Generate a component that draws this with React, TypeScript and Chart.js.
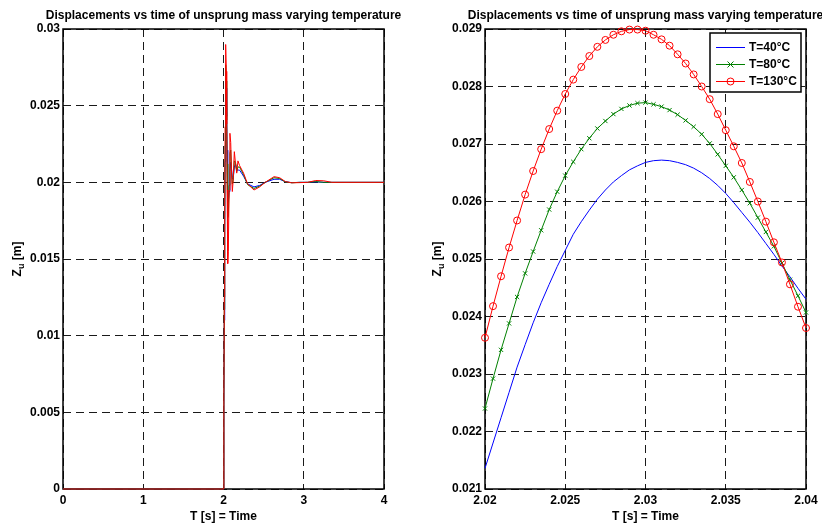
import React, { useEffect, useRef } from 'react';
import { Chart, registerables } from 'chart.js';

Chart.register(...registerables);

// ---------- text ----------
const TITLE = 'Displacements vs time of unsprung mass varying temperature';
const X_LABEL = 'T [s] = Time';
const Y_LABEL_MAIN = 'Z';
const Y_LABEL_SUB = 'u';
const Y_LABEL_REST = ' [m]';
const SERIES_NAMES = ['T=40°C', 'T=80°C', 'T=130°C'];

// ---------- left plot (full time range) ----------
const leftTime = [0, 2.0, 2.005, 2.01, 2.015, 2.02, 2.025, 2.029, 2.035, 2.04,
  2.045, 2.05, 2.055, 2.06, 2.07, 2.08, 2.09, 2.1, 2.11, 2.12,
  2.135, 2.15, 2.165, 2.18, 2.2, 2.25, 2.3, 2.38, 2.45, 2.52,
  2.63, 2.7, 2.77, 2.85, 2.95, 3.05, 3.15, 3.25, 3.35, 4.0];
const leftBlue40 = [0, 0, 0.0055, 0.011, 0.0163, 0.02136, 0.02515, 0.02655, 0.02614, 0.0243,
  0.0221, 0.0201, 0.019, 0.0187, 0.0194, 0.0207, 0.0213, 0.0209, 0.0203, 0.0202,
  0.021, 0.0212, 0.0208, 0.0208, 0.0208, 0.0204, 0.0199, 0.0197, 0.0198, 0.02,
  0.0202, 0.0202, 0.02004, 0.01998, 0.02, 0.02, 0.02003, 0.02, 0.02, 0.02];
const leftGreen80 = [0, 0, 0.0058, 0.0117, 0.0172, 0.0224, 0.02645, 0.02767, 0.02662, 0.02407,
  0.0212, 0.019, 0.0177, 0.0178, 0.0198, 0.0219, 0.0221, 0.0208, 0.0199, 0.0201,
  0.0214, 0.0213, 0.0207, 0.021, 0.021, 0.0205, 0.01985, 0.0196, 0.01975, 0.02,
  0.0203, 0.02025, 0.02003, 0.01997, 0.02, 0.02, 0.02005, 0.02, 0.02, 0.02];
const leftRed130 = [0, 0, 0.0062, 0.0125, 0.0183, 0.02363, 0.02787, 0.02899, 0.02724, 0.0238,
  0.0195, 0.0158, 0.0147, 0.0155, 0.0195, 0.0232, 0.0226, 0.0206, 0.0194, 0.0201,
  0.022, 0.0212, 0.0206, 0.0214, 0.0211, 0.0206, 0.0199, 0.0195, 0.0197, 0.02,
  0.02037, 0.0203, 0.02005, 0.01997, 0.01998, 0.02, 0.02012, 0.0201, 0.02, 0.02];

// ---------- right plot (zoom 2.02 .. 2.04) ----------
const rightTime = [2.02, 2.0205, 2.021, 2.0215, 2.022, 2.0225, 2.023, 2.0235, 2.024, 2.0245,
  2.025, 2.0255, 2.026, 2.0265, 2.027, 2.0275, 2.028, 2.0285, 2.029, 2.0295,
  2.03, 2.0305, 2.031, 2.0315, 2.032, 2.0325, 2.033, 2.0335, 2.034, 2.0345,
  2.035, 2.0355, 2.036, 2.0365, 2.037, 2.0375, 2.038, 2.0385, 2.039, 2.0395, 2.04];
const rightBlue40 = [0.02136, 0.0218, 0.02224, 0.02268, 0.02312, 0.02351, 0.02389, 0.02424, 0.02456, 0.02487,
  0.02515, 0.02543, 0.02565, 0.02585, 0.02604, 0.0262, 0.02634, 0.02645, 0.02655, 0.02662,
  0.02668, 0.02671, 0.02672, 0.02671, 0.02668, 0.02664, 0.02658, 0.0265, 0.0264, 0.02628,
  0.02614, 0.02598, 0.02581, 0.02564, 0.02546, 0.02527, 0.02508, 0.02488, 0.02469, 0.02449, 0.0243];
const rightGreen80 = [0.0224, 0.02292, 0.02342, 0.02388, 0.02434, 0.02475, 0.02513, 0.0255, 0.02586, 0.02617,
  0.02645, 0.02669, 0.02691, 0.0271, 0.02727, 0.0274, 0.02752, 0.02761, 0.02767, 0.02771,
  0.02772, 0.02769, 0.02765, 0.02759, 0.02751, 0.02741, 0.0273, 0.02717, 0.02701, 0.02682,
  0.02662, 0.02642, 0.0262, 0.02597, 0.02572, 0.02547, 0.02522, 0.02493, 0.02464, 0.02436, 0.02407];
const rightRed130 = [0.02363, 0.02418, 0.0247, 0.0252, 0.02567, 0.02612, 0.02653, 0.02691, 0.02726, 0.02758,
  0.02787, 0.02812, 0.02834, 0.02853, 0.02869, 0.02881, 0.0289, 0.02896, 0.02899, 0.02899,
  0.02897, 0.0289, 0.02882, 0.02871, 0.02856, 0.0284, 0.02821, 0.028, 0.02778, 0.02752,
  0.02724, 0.02696, 0.02667, 0.02634, 0.026, 0.02565, 0.02529, 0.02494, 0.02456, 0.02417, 0.0238];

// ---------- ticks ----------
const leftXTickValues = [0, 1, 2, 3, 4];
const leftXTickLabels = ['0', '1', '2', '3', '4'];
const leftYTickValues = [0, 0.005, 0.01, 0.015, 0.02, 0.025, 0.03];
const leftYTickLabels = ['0', '0.005', '0.01', '0.015', '0.02', '0.025', '0.03'];
const rightXTickValues = [2.02, 2.025, 2.03, 2.035, 2.04];
const rightXTickLabels = ['2.02', '2.025', '2.03', '2.035', '2.04'];
const rightYTickValues = [0.021, 0.022, 0.023, 0.024, 0.025, 0.026, 0.027, 0.028, 0.029];
const rightYTickLabels = ['0.021', '0.022', '0.023', '0.024', '0.025', '0.026', '0.027', '0.028', '0.029'];

// ---------- style ----------
const FONT = "'Liberation Sans', Arial, Helvetica, sans-serif";
const COLORS = ['#0000ff', '#008000', '#ff0000'];
const CANVAS_W = 411;
const CANVAS_H = 525;

function drawMarker(ctx: CanvasRenderingContext2D, kind: string, x: number, y: number, color: string) {
  ctx.save();
  ctx.strokeStyle = color;
  ctx.lineWidth = 1;
  ctx.setLineDash([]);
  ctx.beginPath();
  if (kind === 'x') {
    const r = 3;
    ctx.moveTo(x - r, y - r); ctx.lineTo(x + r, y + r);
    ctx.moveTo(x - r, y + r); ctx.lineTo(x + r, y - r);
  } else if (kind === 'o') {
    ctx.arc(x, y, 3.5, 0, Math.PI * 2);
  }
  ctx.stroke();
  ctx.restore();
}

function makeDecor(yLabelX: number, withLegend: boolean) {
  return {
    id: 'decor',
    beforeDatasetsDraw(chart: any) {
      const { ctx, chartArea: a } = chart;
      ctx.save();
      ctx.strokeStyle = '#000';
      ctx.lineWidth = 1.5;
      ctx.setLineDash([]);
      ctx.strokeRect(a.left, a.top, a.right - a.left, a.bottom - a.top);
      ctx.restore();
    },
    afterDraw(chart: any) {
      const { ctx, chartArea: a } = chart;
      const cx = (a.left + a.right) / 2;
      const cy = (a.top + a.bottom) / 2;
      ctx.save();
      ctx.fillStyle = '#000';
      ctx.textBaseline = 'alphabetic';
      ctx.textAlign = 'center';
      ctx.font = `bold 12px ${FONT}`;
      ctx.fillText(TITLE, cx, 19);
      ctx.fillText(X_LABEL, cx, 520);

      // y label with subscript
      ctx.translate(yLabelX, cy);
      ctx.rotate(-Math.PI / 2);
      ctx.textAlign = 'left';
      const mainFont = `bold 12px ${FONT}`;
      const subFont = `bold 9px ${FONT}`;
      ctx.font = mainFont;
      const w1 = ctx.measureText(Y_LABEL_MAIN).width;
      const w3 = ctx.measureText(Y_LABEL_REST).width;
      ctx.font = subFont;
      const w2 = ctx.measureText(Y_LABEL_SUB).width;
      let x0 = -(w1 + w2 + w3) / 2;
      ctx.font = mainFont;
      ctx.fillText(Y_LABEL_MAIN, x0, 0);
      x0 += w1;
      ctx.font = subFont;
      ctx.fillText(Y_LABEL_SUB, x0, 3);
      x0 += w2;
      ctx.font = mainFont;
      ctx.fillText(Y_LABEL_REST, x0, 0);
      ctx.restore();

      if (withLegend) {
        const bx = 299, by = 33, bw = 91, bh = 59;
        ctx.save();
        ctx.fillStyle = '#fff';
        ctx.fillRect(bx, by, bw, bh);
        ctx.strokeStyle = '#000';
        ctx.lineWidth = 1.5;
        ctx.setLineDash([]);
        ctx.strokeRect(bx, by, bw, bh);
        const rows = [47.5, 64.5, 81.5];
        const marks = ['', 'x', 'o'];
        for (let i = 0; i < 3; i++) {
          const y = rows[i];
          ctx.strokeStyle = COLORS[i];
          ctx.lineWidth = 1;
          ctx.beginPath();
          ctx.moveTo(305, y);
          ctx.lineTo(334, y);
          ctx.stroke();
          if (marks[i]) drawMarker(ctx, marks[i], 319.5, y, COLORS[i]);
          ctx.fillStyle = '#000';
          ctx.font = `bold 12px ${FONT}`;
          ctx.textAlign = 'left';
          ctx.textBaseline = 'middle';
          ctx.fillText(SERIES_NAMES[i], 338, y + 0.5);
        }
        ctx.restore();
      }
    },
  };
}

function toPoints(xs: number[], ys: number[]) {
  return xs.map((x, i) => ({ x, y: ys[i] }));
}

interface Spec {
  time: number[];
  blue: number[];
  green: number[];
  red: number[];
  markers: boolean;
  xMin: number; xMax: number; yMin: number; yMax: number;
  xVals: number[]; xLabels: string[]; yVals: number[]; yLabels: string[];
  yWidth: number; padRight: number; yLabelX: number; legend: boolean;
}

function buildConfig(s: Spec): any {
  const tickFont = { family: FONT, size: 12, weight: 'bold' as const };
  const base = { borderWidth: 1, tension: 0, clip: false as any, pointHoverRadius: 0 };
  return {
    type: 'line',
    data: {
      datasets: [
        {
          ...base, label: SERIES_NAMES[0], data: toPoints(s.time, s.blue), borderColor: COLORS[0],
          pointRadius: 0, order: 2,
        },
        {
          ...base, label: SERIES_NAMES[1], data: toPoints(s.time, s.green), borderColor: COLORS[1],
          pointRadius: s.markers ? 3 : 0, pointStyle: 'crossRot', pointBorderColor: COLORS[1],
          pointBackgroundColor: 'transparent', pointBorderWidth: 1, order: 1,
        },
        {
          ...base, label: SERIES_NAMES[2], data: toPoints(s.time, s.red), borderColor: COLORS[2],
          pointRadius: s.markers ? 3.5 : 0, pointStyle: 'circle', pointBorderColor: COLORS[2],
          pointBackgroundColor: 'transparent', pointBorderWidth: 1, order: 0,
        },
      ],
    },
    options: {
      animation: false,
      responsive: false,
      devicePixelRatio: 1,
      events: [],
      layout: { padding: { top: 29, right: s.padRight, left: 0, bottom: 0 } },
      plugins: { legend: { display: false }, tooltip: { enabled: false }, title: { display: false } },
      scales: {
        x: {
          type: 'linear',
          min: s.xMin,
          max: s.xMax,
          afterFit: (sc: any) => { sc.height = 36; },
          afterBuildTicks: (sc: any) => { sc.ticks = s.xVals.map((v) => ({ value: v })); },
          ticks: {
            callback: (_v: any, i: number) => s.xLabels[i],
            font: tickFont, color: '#000', padding: 4, autoSkip: false, maxRotation: 0, minRotation: 0,
          },
          grid: { color: '#1a1a1a', lineWidth: 1, drawTicks: false },
          border: { display: false, dash: [8, 5] },
        },
        y: {
          type: 'linear',
          min: s.yMin,
          max: s.yMax,
          afterFit: (sc: any) => { sc.width = s.yWidth; },
          afterBuildTicks: (sc: any) => { sc.ticks = s.yVals.map((v) => ({ value: v })); },
          ticks: {
            callback: (_v: any, i: number) => s.yLabels[i],
            font: tickFont, color: '#000', padding: 3, autoSkip: false,
          },
          grid: { color: '#1a1a1a', lineWidth: 1, drawTicks: false },
          border: { display: false, dash: [8, 5] },
        },
      },
    },
    plugins: [makeDecor(s.yLabelX, s.legend)],
  };
}

function ChartCanvas({ spec, left }: { spec: Spec; left: number }) {
  const ref = useRef<HTMLCanvasElement>(null);
  useEffect(() => {
    const chart = new Chart(ref.current as HTMLCanvasElement, buildConfig(spec));
    return () => chart.destroy();
  }, []);
  return (
    <canvas
      ref={ref}
      width={CANVAS_W}
      height={CANVAS_H}
      style={{ position: 'absolute', left, top: 0, width: CANVAS_W, height: CANVAS_H }}
    />
  );
}

const leftSpec: Spec = {
  time: leftTime, blue: leftBlue40, green: leftGreen80, red: leftRed130, markers: false,
  xMin: 0, xMax: 4, yMin: 0, yMax: 0.03,
  xVals: leftXTickValues, xLabels: leftXTickLabels, yVals: leftYTickValues, yLabels: leftYTickLabels,
  yWidth: 63, padRight: 27, yLabelX: 21, legend: false,
};

const rightSpec: Spec = {
  time: rightTime, blue: rightBlue40, green: rightGreen80, red: rightRed130, markers: true,
  xMin: 2.02, xMax: 2.04, yMin: 0.021, yMax: 0.029,
  xVals: rightXTickValues, xLabels: rightXTickLabels, yVals: rightYTickValues, yLabels: rightYTickLabels,
  yWidth: 74, padRight: 16, yLabelX: 30, legend: true,
};

export default function App() {
  return (
    <div style={{ position: 'absolute', left: 0, top: 0, width: 822, height: 525, background: '#fff', overflow: 'hidden' }}>
      <ChartCanvas spec={leftSpec} left={0} />
      <ChartCanvas spec={rightSpec} left={411} />
    </div>
  );
}
